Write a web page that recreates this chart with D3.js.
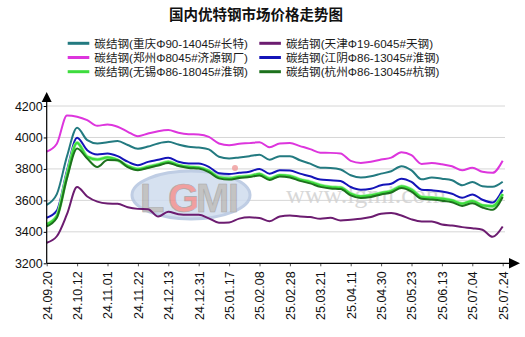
<!DOCTYPE html>
<html>
<head>
<meta charset="utf-8">
<script src="https://cdn.jsdelivr.net/npm/d3@7"></script>
<style>
  html, body { margin: 0; padding: 0; background: #fff; }
  svg { display: block; }
</style>
</head>
<body>
<svg id="chart" width="525" height="337"></svg>
<script>
// Date labels shown on the x axis (one every three samples)
const dateLabels = ["24.09.20","24.10.12","24.11.01","24.11.22","24.12.13","24.12.31",
  "25.01.17","25.02.08","25.02.28","25.03.21","25.04.11","25.04.30","25.05.23",
  "25.06.13","25.07.04","25.07.24"];

const yTicks = [3200, 3400, 3600, 3800, 4000, 4200];

// Series names
const seriesNames = [
  "碳结钢(重庆Φ90-14045#长特)",
  "碳结钢(天津Φ19-6045#天钢)",
  "碳结钢(郑州Φ8045#济源钢厂)",
  "碳结钢(江阴Φ86-13045#淮钢)",
  "碳结钢(无锡Φ86-18045#淮钢)",
  "碳结钢(杭州Φ86-13045#杭钢)"
];

// Prices (yuan/ton), 46 samples from 24.09.20 to 25.07.24
const chongqing = [3572,3640,3880,4062,3983,3962,3970,3978,3952,3928,3942,3962,3972,3955,3941,3936,
  3924,3877,3866,3873,3881,3890,3858,3881,3881,3855,3834,3808,3806,3796,3760,3745,3753,3770,3785,
  3817,3791,3734,3745,3738,3728,3696,3717,3690,3686,3718];
const tianjin = [3331,3372,3512,3685,3625,3592,3580,3578,3556,3546,3544,3497,3528,3512,3508,3508,
  3486,3458,3460,3484,3492,3488,3468,3498,3504,3498,3494,3483,3489,3472,3477,3483,3494,3515,3519,
  3504,3479,3466,3466,3447,3440,3430,3423,3413,3368,3434];
const zhengzhou = [3910,3960,4140,4132,4110,4074,4083,4068,4036,4008,4025,4040,4047,4030,4021,4019,
  4004,3962,3951,3960,3964,3970,3938,3962,3964,3945,3926,3903,3902,3898,3851,3838,3845,3860,3872,
  3906,3887,3832,3838,3830,3817,3791,3808,3782,3775,3852];
const jiangyin = [3490,3535,3790,3998,3919,3892,3898,3881,3846,3824,3845,3858,3871,3846,3835,3834,
  3813,3772,3767,3775,3782,3800,3770,3791,3790,3770,3753,3732,3728,3723,3685,3668,3674,3696,3706,
  3738,3717,3668,3664,3657,3642,3617,3638,3604,3586,3668];
const wuxi = [3448,3500,3760,3966,3877,3860,3873,3856,3818,3799,3813,3828,3845,3824,3813,3809,
  3788,3746,3739,3750,3754,3768,3738,3760,3755,3732,3717,3696,3685,3681,3642,3625,3632,3647,3660,
  3689,3668,3621,3617,3611,3600,3579,3596,3568,3563,3640];
const hangzhou = [3435,3490,3740,3930,3866,3812,3856,3855,3812,3792,3806,3822,3838,3818,3806,3802,
  3780,3740,3732,3742,3748,3758,3730,3752,3746,3724,3708,3686,3676,3672,3632,3615,3622,3638,3650,
  3678,3656,3610,3605,3598,3588,3565,3582,3555,3540,3622];

const seriesColors = ["#237a80", "#6c1c70", "#dd35dd", "#1414b8", "#3ddc3d", "#1d711d"];
const seriesValues = [chongqing, tianjin, zhengzhou, jiangyin, wuxi, hangzhou];

const svg = d3.select("#chart");
const sansFont = "'Liberation Sans', Arial, 'Noto Sans CJK SC', sans-serif";

const x = d3.scaleLinear().domain([0, chongqing.length - 1]).range([46.7, 502.7]);
const y = d3.scaleLinear().domain([3200, 4200]).range([263.3, 106]);

// Title
svg.append("text")
  .attr("x", 256).attr("y", 20)
  .attr("text-anchor", "middle")
  .style("font-family", "'Noto Sans CJK SC', sans-serif")
  .style("font-weight", "bold")
  .style("font-size", "14.5px")
  .attr("fill", "#111")
  .text("国内优特钢市场价格走势图");

// Legend: two columns, three rows; order follows the series arrays
const legendOrder = [0, 2, 4, 1, 3, 5];
legendOrder.forEach((si, k) => {
  const col = Math.floor(k / 3), row = k % 3;
  const lx = col === 0 ? 67.7 : 259.3;
  const ly = 43.3 + row * 14.2;
  const g = svg.append("g");
  g.append("line")
    .attr("x1", lx).attr("x2", lx + 21.6)
    .attr("y1", ly).attr("y2", ly)
    .attr("stroke", seriesColors[si]).attr("stroke-width", 3);
  g.append("text")
    .attr("x", lx + 26.6).attr("y", ly + 4.3)
    .style("font-family", sansFont)
    .style("font-size", "11.6px")
    .attr("fill", "#1a1a1a")
    .text(seriesNames[si]);
});

// Gridlines
svg.append("g").selectAll("line")
  .data(yTicks.slice(1))
  .join("line")
  .attr("x1", 46.7).attr("x2", 505)
  .attr("y1", d => y(d)).attr("y2", d => y(d))
  .attr("stroke", "#d6d6d6").attr("stroke-width", 1);

// Watermark (logo ellipse and site address)
const wm = svg.append("g").attr("opacity", 0.85);
wm.append("ellipse")
  .attr("cx", 191).attr("cy", 195).attr("rx", 59).attr("ry", 24)
  .attr("fill", "#cfdcee").attr("stroke", "#b4c5e0").attr("stroke-width", 3);
const logoLetters = [["L", 140, "#b9b9b9"], ["G", 168, "#ee8f8f"], ["M", 196, "#b9b9b9"], ["I", 228, "#b9b9b9"]];
logoLetters.forEach(([ch, lx, col]) => {
  wm.append("text")
    .attr("x", lx).attr("y", 212)
    .style("font-family", "'Liberation Sans', Arial, sans-serif")
    .style("font-weight", "bold")
    .style("font-size", "40px")
    .attr("fill", col)
    .attr("stroke", "#9a9a9a").attr("stroke-width", 0.6)
    .text(ch);
});
wm.append("circle").attr("cx", 235).attr("cy", 168).attr("r", 3).attr("fill", "#f0a0a0");
wm.append("text")
  .attr("x", 286).attr("y", 203)
  .style("font-family", "'Liberation Serif', 'DejaVu Serif', serif")
  .style("font-size", "26px")
  .attr("fill", "#d2d2d2")
  .text("www.lgmi.com");

// Series lines
const line = d3.line()
  .x((d, i) => x(i))
  .y(d => y(d))
  .curve(d3.curveMonotoneX);

seriesValues.forEach((vals, si) => {
  if (si === 4) {
    svg.append("path")
      .attr("d", line(vals))
      .attr("fill", "none")
      .attr("stroke", "#9ef09e").attr("stroke-width", 3.6)
      .attr("stroke-linejoin", "round");
  }
  svg.append("path")
    .attr("d", line(vals))
    .attr("fill", "none")
    .attr("stroke", seriesColors[si])
    .attr("stroke-width", si === 4 ? 2.2 : 2)
    .attr("stroke-linejoin", "round");
});

// Y axis
const yAxis = d3.axisLeft(y).tickValues(yTicks).tickSize(3).tickPadding(1).tickFormat(d3.format("d"));
const yg = svg.append("g").attr("transform", "translate(46.7,0)").call(yAxis);
yg.select(".domain").remove();
yg.selectAll(".tick line").attr("stroke", "#000");
yg.selectAll("text")
  .style("font-family", sansFont)
  .style("font-size", "12.5px")
  .attr("fill", "#111");
svg.append("line")
  .attr("x1", 46.7).attr("x2", 46.7).attr("y1", 263.3).attr("y2", 100)
  .attr("stroke", "#000").attr("stroke-width", 1.2);
svg.append("path")
  .attr("d", "M46.7,92 L41.7,102 L51.7,102 Z")
  .attr("fill", "#000");

// X axis
const xAxis = d3.axisBottom(x)
  .tickValues(dateLabels.map((d, i) => i * 3))
  .tickSize(3)
  .tickFormat((d) => dateLabels[d / 3]);
const xg = svg.append("g").attr("transform", "translate(0,263.3)").call(xAxis);
xg.select(".domain").remove();
xg.selectAll(".tick line").attr("stroke", "#555");
xg.selectAll("text")
  .style("font-family", sansFont)
  .style("font-size", "12.5px")
  .attr("fill", "#111")
  .attr("text-anchor", "end")
  .attr("transform", "rotate(-90)")
  .attr("x", -8).attr("y", 0).attr("dy", "0.35em");
svg.append("line")
  .attr("x1", 46.7).attr("x2", 510).attr("y1", 263.3).attr("y2", 263.3)
  .attr("stroke", "#000").attr("stroke-width", 1.2);
svg.append("path")
  .attr("d", "M520,263.3 L509,258 L509,268.6 Z")
  .attr("fill", "#000");
</script>
</body>
</html>
